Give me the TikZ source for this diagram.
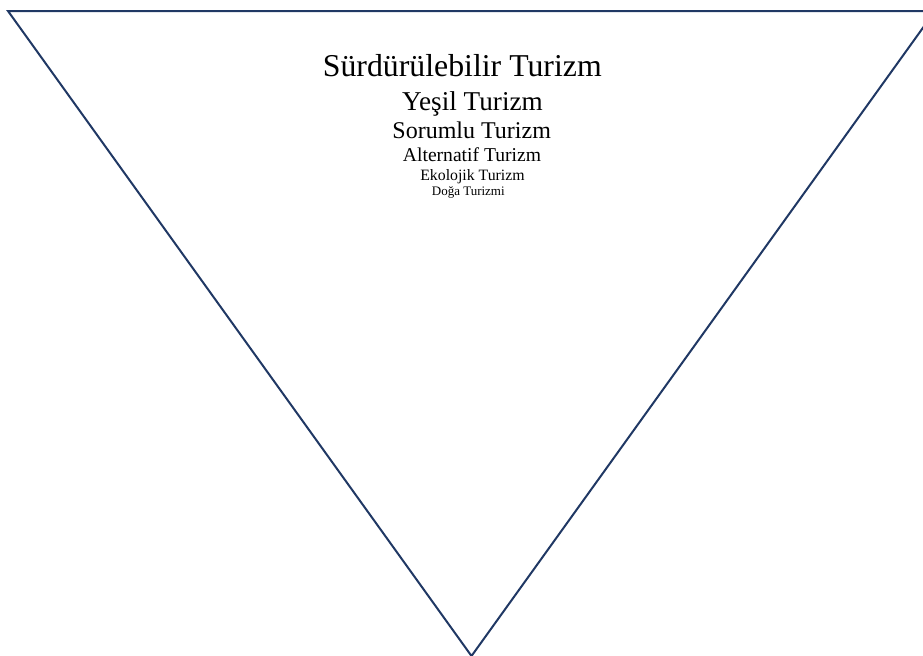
\documentclass[tikz,border=0pt]{standalone}
\usepackage{fontspec}
\setmainfont{Liberation Serif}
\usepackage{tikz}
\definecolor{navy}{RGB}{32,56,100}
\tikzset{lvl/.style={anchor=base,inner sep=0pt,text=black}}

\begin{document}
\begin{tikzpicture}[x=0.5pt,y=-0.5pt]
  \useasboundingbox (0,0) rectangle (923,655);
  \clip (0,0) rectangle (923,655);
  % inverted triangle
  \draw[navy,line width=1pt] (8,11) -- (935,11) -- (471.5,656) -- cycle;
  % levels, largest first
  \node[lvl,font=\fontsize{15.9}{18}\selectfont] (surd) at (462.3,76.7) {Sürdürülebilir Turizm};
  \node[lvl,font=\fontsize{13.6}{16}\selectfont] (yesil) at (472.5,110) {Yeşil Turizm};
  \node[lvl,font=\fontsize{12}{14}\selectfont] (sorum) at (471.7,138.3) {Sorumlu Turizm};
  \node[lvl,font=\fontsize{9.8}{12}\selectfont] (alter) at (472,161.7) {Alternatif Turizm};
  \node[lvl,font=\fontsize{7.9}{10}\selectfont] (ekolo) at (472.5,180) {Ekolojik Turizm};
  \node[lvl,font=\fontsize{6.5}{8}\selectfont] (doga) at (468.3,195) {Doğa Turizmi};
\end{tikzpicture}
\end{document}
